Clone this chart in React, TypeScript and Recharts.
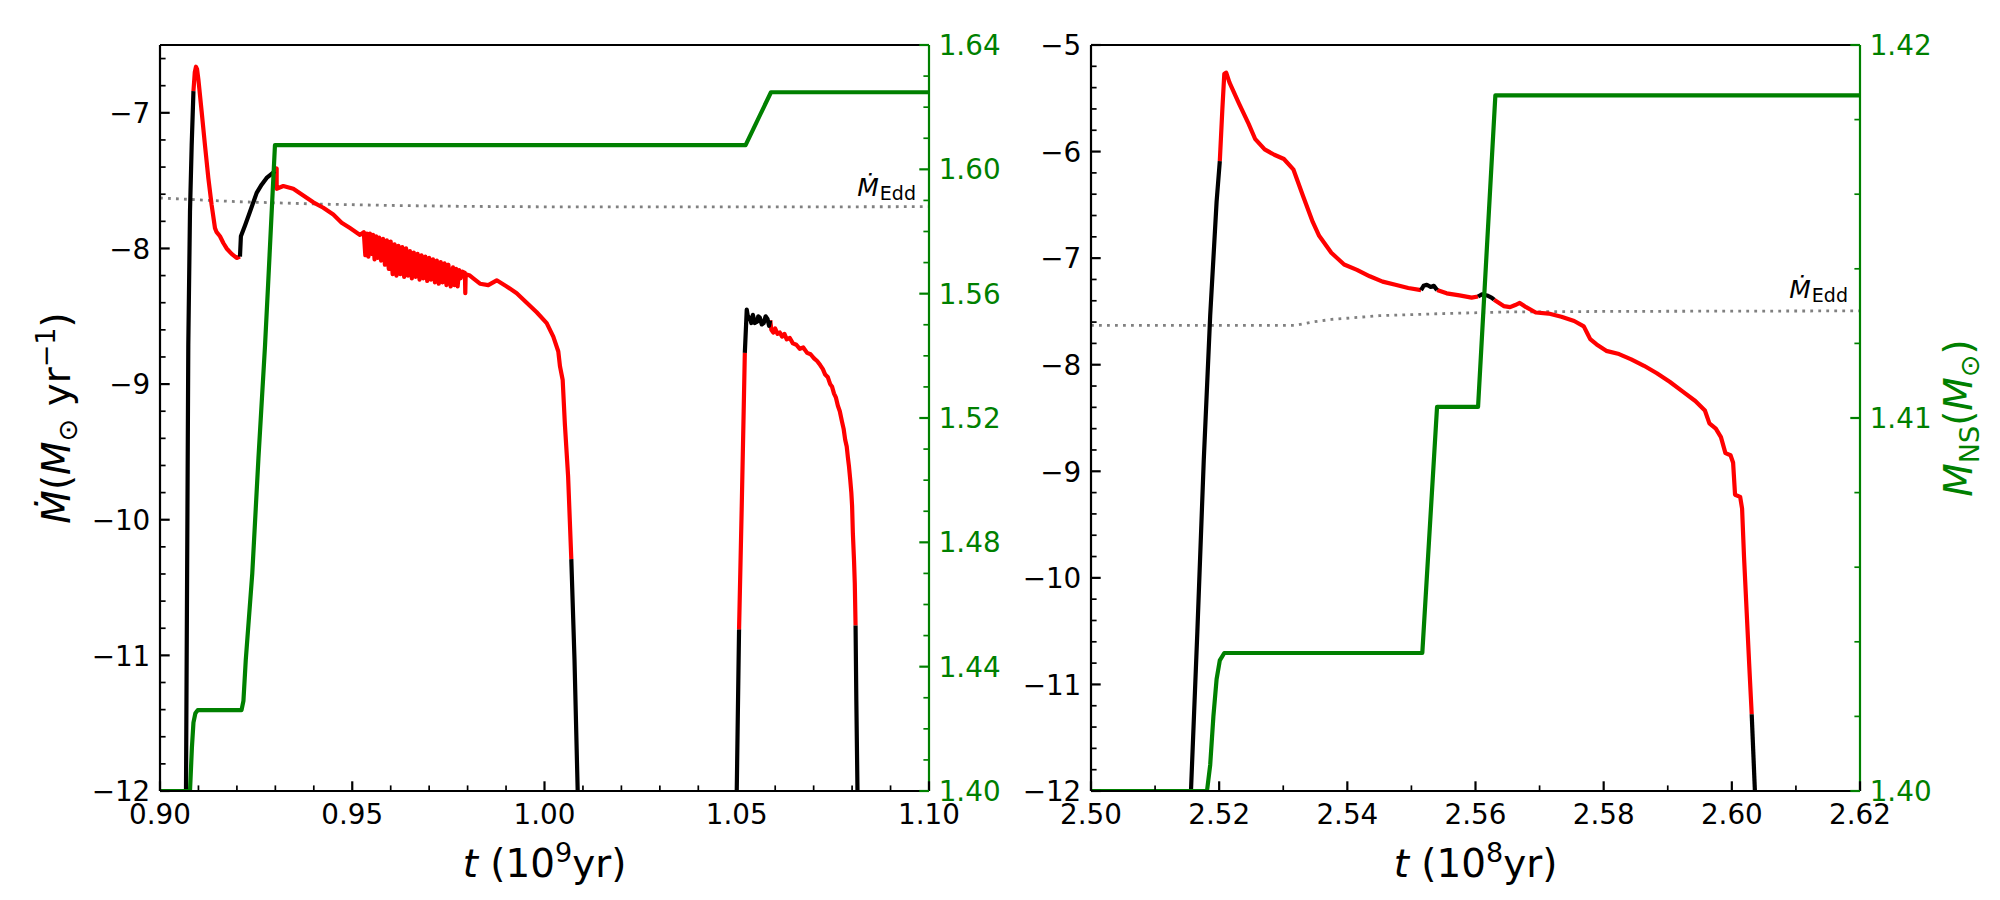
import React from 'react';
import { LineChart, Line, XAxis, YAxis } from 'recharts';

type P = [number, number];

// ---------------- Left panel (t in 1e9 yr) ----------------
const leftBlack1: P[] = [[0.90676, -12], [0.90736, -8.71], [0.9078, -7.73], [0.90824, -7.24], [0.9087, -6.84]];
const leftRed1: P[] = [[0.9087, -6.84], [0.90905, -6.7], [0.90936, -6.66], [0.90965, -6.68], [0.90997, -6.75], [0.91083, -6.99], [0.9117, -7.24], [0.91257, -7.48], [0.91343, -7.68], [0.9143, -7.85], [0.91473, -7.88], [0.9156, -7.91], [0.91647, -7.96], [0.91733, -8.0], [0.91863, -8.04], [0.91993, -8.07], [0.9208, -8.06]];
const leftBlack2: P[] = [[0.9208, -8.06], [0.92104, -7.91], [0.92211, -7.83], [0.9234, -7.73], [0.92514, -7.59], [0.92643, -7.53], [0.92773, -7.48], [0.92903, -7.45], [0.9299, -7.43]];
const leftRed2: P[] = [
  [0.9299, -7.43], [0.93034, -7.41], [0.93034, -7.56], [0.93207, -7.54], [0.93467, -7.56], [0.93727, -7.61], [0.93987, -7.66], [0.94247, -7.7], [0.94507, -7.75], [0.94724, -7.81], [0.94941, -7.85], [0.95202, -7.9],
  [0.953, -7.88], [0.9534, -8.05], [0.9538, -7.89], [0.9542, -8.06], [0.9546, -7.89], [0.955, -8.04], [0.9554, -7.9], [0.9558, -8.08], [0.9562, -7.91], [0.9566, -8.07], [0.957, -7.92], [0.9575, -8.09], [0.958, -7.93], [0.9585, -8.12], [0.959, -7.94], [0.9595, -8.15], [0.96, -7.95], [0.9605, -8.19], [0.961, -7.97], [0.9615, -8.2], [0.962, -7.98], [0.9625, -8.19], [0.963, -7.99], [0.9635, -8.21], [0.964, -8.0], [0.9645, -8.2], [0.965, -8.02], [0.9655, -8.22], [0.966, -8.03], [0.9665, -8.21], [0.967, -8.04], [0.9675, -8.23], [0.968, -8.05], [0.9685, -8.22], [0.969, -8.06], [0.9695, -8.24], [0.97, -8.07], [0.9705, -8.23], [0.971, -8.08], [0.9715, -8.25], [0.972, -8.09], [0.9725, -8.26], [0.973, -8.1], [0.9735, -8.25], [0.974, -8.11], [0.9745, -8.27], [0.975, -8.12], [0.9756, -8.28], [0.9762, -8.14], [0.9766, -8.27], [0.977, -8.15], [0.9774, -8.28], [0.9778, -8.16], [0.9782, -8.22], [0.9786, -8.17], [0.9793, -8.18], [0.9794, -8.33], [0.9795, -8.19], [0.9806, -8.2],
  [0.98148, -8.22], [0.98322, -8.26], [0.98538, -8.27], [0.98757, -8.235], [0.99017, -8.28], [0.99277, -8.33], [0.99537, -8.4], [0.99797, -8.47], [1.00057, -8.55], [1.00229, -8.65], [1.00359, -8.76], [1.00403, -8.87], [1.00473, -8.97], [1.00531, -9.3], [1.00614, -9.68], [1.00697, -10.29]];
const leftBlack3: P[] = [[1.00697, -10.29], [1.0078, -11.03], [1.00863, -12]];
const leftBlack4: P[] = [[1.05, -12], [1.0503, -11.4], [1.0506, -10.81]];
const leftRed3: P[] = [[1.0506, -10.81], [1.0513, -9.9], [1.0518, -9.2], [1.0521, -8.77]];
const leftBlack5: P[] = [[1.0521, -8.77], [1.0526, -8.45], [1.053, -8.52], [1.0534, -8.51], [1.0538, -8.55], [1.0542, -8.49], [1.0547, -8.55], [1.0553, -8.54], [1.0556, -8.5], [1.056, -8.51], [1.0565, -8.56], [1.057, -8.55], [1.0575, -8.5], [1.058, -8.52], [1.0584, -8.57], [1.0587, -8.53]];
const leftRed4: P[] = [[1.0587, -8.53], [1.059, -8.6], [1.0595, -8.62], [1.06, -8.59], [1.0606, -8.63], [1.0612, -8.62], [1.0618, -8.65], [1.0624, -8.63], [1.063, -8.67], [1.0638, -8.66], [1.0646, -8.7], [1.0655, -8.71], [1.0664, -8.74], [1.0673, -8.73], [1.0683, -8.77], [1.0692, -8.78], [1.0701, -8.81], [1.0709, -8.83], [1.0717, -8.86], [1.0724, -8.89], [1.073, -8.93], [1.0737, -8.95], [1.0743, -9.0], [1.0748, -9.02], [1.0753, -9.07], [1.0758, -9.1], [1.0763, -9.16], [1.0768, -9.2], [1.0774, -9.28], [1.0778, -9.33], [1.0782, -9.41], [1.0786, -9.46], [1.0789, -9.54], [1.0792, -9.61], [1.0795, -9.7], [1.0798, -9.8], [1.08, -9.9], [1.0802, -10.1], [1.0805, -10.3], [1.0807, -10.47], [1.0809, -10.78]];
const leftBlack6: P[] = [[1.0809, -10.78], [1.0811, -11.33], [1.0814, -12]];
const leftEdd: P[] = [[0.9, -7.628], [0.92, -7.655], [0.94, -7.672], [0.96, -7.683], [0.98, -7.69], [1.0, -7.693], [1.05, -7.694], [1.1, -7.692]];
const leftMassNS: P[] = [[0.9, 1.4], [0.9078, 1.4], [0.9083, 1.414], [0.9087, 1.422], [0.9092, 1.425], [0.9098, 1.426], [0.9212, 1.426], [0.9217, 1.429], [0.9223, 1.442], [0.924, 1.47], [0.9256, 1.507], [0.9273, 1.543], [0.9281, 1.5625], [0.9299, 1.6078], [1.0523, 1.6078], [1.0589, 1.6248], [1.1, 1.6248]];

const leftXTicks = [0.9, 0.91, 0.92, 0.93, 0.94, 0.95, 0.96, 0.97, 0.98, 0.99, 1.0, 1.01, 1.02, 1.03, 1.04, 1.05, 1.06, 1.07, 1.08, 1.09, 1.1];
const leftXMajor = [0.9, 0.95, 1.0, 1.05, 1.1];
const leftXLabels = ['0.90', '0.95', '1.00', '1.05', '1.10'];
const leftYTicks = [-12, -11.8, -11.6, -11.4, -11.2, -11, -10.8, -10.6, -10.4, -10.2, -10, -9.8, -9.6, -9.4, -9.2, -9, -8.8, -8.6, -8.4, -8.2, -8, -7.8, -7.6, -7.4, -7.2, -7, -6.8, -6.6];
const leftYMajor = [-12, -11, -10, -9, -8, -7];
const leftYLabels = ['\u221212', '\u221211', '\u221210', '\u22129', '\u22128', '\u22127'];
const leftY2Ticks = [1.4, 1.41, 1.42, 1.43, 1.44, 1.45, 1.46, 1.47, 1.48, 1.49, 1.5, 1.51, 1.52, 1.53, 1.54, 1.55, 1.56, 1.57, 1.58, 1.59, 1.6, 1.61, 1.62, 1.63, 1.64];
const leftY2Major = [1.4, 1.44, 1.48, 1.52, 1.56, 1.6, 1.64];
const leftY2Labels = ['1.40', '1.44', '1.48', '1.52', '1.56', '1.60', '1.64'];

// ---------------- Right panel (t in 1e8 yr) ----------------
const rightBlack1: P[] = [[2.5156, -12], [2.5166, -10.5], [2.5176, -8.89], [2.5186, -7.54], [2.5196, -6.47], [2.5201, -6.09]];
const rightRed1: P[] = [[2.5201, -6.09], [2.5205, -5.6], [2.5208, -5.27], [2.5211, -5.26], [2.5216, -5.35], [2.5231, -5.55], [2.5246, -5.74], [2.5256, -5.88], [2.5271, -5.98], [2.5286, -6.03], [2.5301, -6.07], [2.5316, -6.17], [2.5331, -6.42], [2.5346, -6.66], [2.5356, -6.79], [2.5375, -6.95], [2.5395, -7.06], [2.5415, -7.11], [2.5435, -7.17], [2.5455, -7.22], [2.5475, -7.25], [2.5495, -7.28], [2.5515, -7.3]];
const rightBlack2: P[] = [[2.5515, -7.3], [2.5519, -7.26], [2.5524, -7.25], [2.553, -7.27], [2.5535, -7.26], [2.554, -7.3]];
const rightRed2: P[] = [[2.554, -7.3], [2.5555, -7.33], [2.5575, -7.35], [2.5594, -7.37], [2.5604, -7.36]];
const rightBlack3: P[] = [[2.5604, -7.36], [2.561, -7.34], [2.5618, -7.35], [2.5625, -7.37], [2.5629, -7.39]];
const rightRed3: P[] = [[2.5629, -7.39], [2.5644, -7.45], [2.5654, -7.46], [2.5662, -7.44], [2.5669, -7.42], [2.5679, -7.46], [2.5694, -7.51], [2.5714, -7.52], [2.5734, -7.55], [2.5754, -7.59], [2.5769, -7.64], [2.5774, -7.7], [2.5779, -7.76], [2.5789, -7.81], [2.5804, -7.87], [2.5824, -7.9], [2.5843, -7.95], [2.5863, -8.01], [2.5883, -8.08], [2.5903, -8.16], [2.5923, -8.25], [2.5943, -8.34], [2.5958, -8.43], [2.5965, -8.55], [2.5975, -8.6], [2.5983, -8.68], [2.599, -8.83], [2.5998, -8.85], [2.6002, -8.92], [2.6005, -9.22], [2.6013, -9.24], [2.6016, -9.35], [2.6019, -9.8], [2.6023, -10.3], [2.6027, -10.8], [2.6031, -11.28]];
const rightBlack4: P[] = [[2.6031, -11.28], [2.6036, -12]];
const rightEdd: P[] = [[2.5, -7.63], [2.532, -7.63], [2.5345, -7.6], [2.5375, -7.575], [2.545, -7.54], [2.555, -7.52], [2.565, -7.505], [2.58, -7.5], [2.6, -7.497], [2.62, -7.495]];
const rightMassNS: P[] = [[2.5, 1.4], [2.5181, 1.4], [2.5186, 1.4007], [2.5191, 1.402], [2.5196, 1.403], [2.5201, 1.4035], [2.5208, 1.4037], [2.5517, 1.4037], [2.554, 1.4103], [2.5604, 1.4103], [2.5631, 1.41865], [2.62, 1.41865]];

const rightXTicks = [2.5, 2.51, 2.52, 2.53, 2.54, 2.55, 2.56, 2.57, 2.58, 2.59, 2.6, 2.61, 2.62];
const rightXMajor = [2.5, 2.52, 2.54, 2.56, 2.58, 2.6, 2.62];
const rightXLabels = ['2.50', '2.52', '2.54', '2.56', '2.58', '2.60', '2.62'];
const rightYTicks = [-12, -11.8, -11.6, -11.4, -11.2, -11, -10.8, -10.6, -10.4, -10.2, -10, -9.8, -9.6, -9.4, -9.2, -9, -8.8, -8.6, -8.4, -8.2, -8, -7.8, -7.6, -7.4, -7.2, -7, -6.8, -6.6, -6.4, -6.2, -6, -5.8, -5.6, -5.4, -5.2, -5];
const rightYMajor = [-12, -11, -10, -9, -8, -7, -6, -5];
const rightYLabels = ['\u221212', '\u221211', '\u221210', '\u22129', '\u22128', '\u22127', '\u22126', '\u22125'];
const rightY2Ticks = [1.4, 1.402, 1.404, 1.406, 1.408, 1.41, 1.412, 1.414, 1.416, 1.418, 1.42];
const rightY2Major = [1.4, 1.41, 1.42];
const rightY2Labels = ['1.40', '1.41', '1.42'];

// ---------------- styling ----------------
const FONT = 'DejaVu Sans';
const TICK_FS = 27.8;
const LABEL_FS = 38.9;
const GREEN = '#008000';
const RED = '#ff0000';
const BLACK = '#000000';
const LW = 4.2;
const SPINE = 2.2;

const rows = (pts: P[]) => pts.map(([t, v]) => ({ t, v }));
const majorIndex = (v: number, majors: number[]) => majors.findIndex((m) => Math.abs(m - v) < 1e-6);

function bottomTick(majors: number[], labels: string[]) {
  return (props: any) => {
    const { x, y, payload } = props;
    const i = majorIndex(payload.value, majors);
    const major = i >= 0;
    return (
      <g>
        <line x1={x} x2={x} y1={y} y2={y - (major ? 9.7 : 5.6)} stroke={BLACK} strokeWidth={major ? 2.2 : 1.7} />
        {major && (
          <text x={x} y={y + 33} textAnchor="middle" fontSize={TICK_FS} fontFamily={FONT} fill={BLACK}>
            {labels[i]}
          </text>
        )}
      </g>
    );
  };
}

function leftTick(majors: number[], labels: string[]) {
  return (props: any) => {
    const { x, y, payload } = props;
    const i = majorIndex(payload.value, majors);
    const major = i >= 0;
    return (
      <g>
        <line x1={x} x2={x + (major ? 9.7 : 5.6)} y1={y} y2={y} stroke={BLACK} strokeWidth={major ? 2.2 : 1.7} />
        {major && (
          <text x={x - 9.7} y={y + 10.3} textAnchor="end" fontSize={TICK_FS} fontFamily={FONT} fill={BLACK}>
            {labels[i]}
          </text>
        )}
      </g>
    );
  };
}

function rightTick(majors: number[], labels: string[]) {
  return (props: any) => {
    const { x, y, payload } = props;
    const i = majorIndex(payload.value, majors);
    const major = i >= 0;
    return (
      <g>
        <line x1={x} x2={x - (major ? 9.7 : 5.6)} y1={y} y2={y} stroke={GREEN} strokeWidth={major ? 2.2 : 1.7} />
        {major && (
          <text x={x + 9.7} y={y + 10} textAnchor="start" fontSize={TICK_FS} fontFamily={FONT} fill={GREEN}>
            {labels[i]}
          </text>
        )}
      </g>
    );
  };
}

type PanelProps = {
  left: number;
  margin: { top: number; right: number; bottom: number; left: number };
  xDomain: [number, number];
  yDomain: [number, number];
  y2Domain: [number, number];
  xTicks: number[]; xMajor: number[]; xLabels: string[];
  yTicks: number[]; yMajor: number[]; yLabels: string[];
  y2Ticks: number[]; y2Major: number[]; y2Labels: string[];
  edd: P[];
  red: P[][];
  black: P[][];
  mass: P[];
};

function Panel(p: PanelProps) {
  return (
    <div style={{ position: 'absolute', left: p.left, top: 0, width: 1000, height: 900 }}>
      <LineChart width={1000} height={900} margin={p.margin}>
        <XAxis
          xAxisId={0}
          dataKey="t"
          type="number"
          domain={p.xDomain}
          allowDataOverflow
          ticks={p.xTicks}
          interval={0}
          height={1}
          tickSize={0}
          tickMargin={0}
          tickLine={false}
          axisLine={{ stroke: BLACK, strokeWidth: SPINE }}
          tick={bottomTick(p.xMajor, p.xLabels)}
        />
        <XAxis
          xAxisId="top"
          orientation="top"
          dataKey="t"
          type="number"
          domain={p.xDomain}
          allowDataOverflow
          ticks={p.xDomain}
          interval={0}
          height={1}
          tickSize={0}
          tickMargin={0}
          tick={() => <g />}
          tickLine={false}
          axisLine={{ stroke: BLACK, strokeWidth: SPINE }}
        />
        <YAxis
          yAxisId="left"
          type="number"
          domain={p.yDomain}
          allowDataOverflow
          ticks={p.yTicks}
          interval={0}
          width={1}
          tickSize={0}
          tickMargin={0}
          tickLine={false}
          axisLine={{ stroke: BLACK, strokeWidth: SPINE }}
          tick={leftTick(p.yMajor, p.yLabels)}
        />
        <YAxis
          yAxisId="right"
          orientation="right"
          type="number"
          domain={p.y2Domain}
          allowDataOverflow
          ticks={p.y2Ticks}
          interval={0}
          width={1}
          tickSize={0}
          tickMargin={0}
          tickLine={false}
          axisLine={{ stroke: GREEN, strokeWidth: SPINE }}
          tick={rightTick(p.y2Major, p.y2Labels)}
        />
        <Line
          yAxisId="left"
          data={rows(p.edd)}
          dataKey="v"
          type="linear"
          stroke="#808080"
          strokeWidth={2.8}
          strokeDasharray="2.8 5.2"
          dot={false}
          activeDot={false}
          isAnimationActive={false}
        />
        {p.red.map((seg, k) => (
          <Line
            key={'r' + k}
            yAxisId="left"
            data={rows(seg)}
            dataKey="v"
            type="linear"
            stroke={RED}
            strokeWidth={LW}
            strokeLinejoin="round"
            dot={false}
            activeDot={false}
            isAnimationActive={false}
          />
        ))}
        {p.black.map((seg, k) => (
          <Line
            key={'b' + k}
            yAxisId="left"
            data={rows(seg)}
            dataKey="v"
            type="linear"
            stroke={BLACK}
            strokeWidth={LW}
            strokeLinejoin="round"
            dot={false}
            activeDot={false}
            isAnimationActive={false}
          />
        ))}
        <Line
          yAxisId="right"
          data={rows(p.mass)}
          dataKey="v"
          type="linear"
          stroke={GREEN}
          strokeWidth={LW}
          strokeLinejoin="round"
          dot={false}
          activeDot={false}
          isAnimationActive={false}
        />
      </LineChart>
    </div>
  );
}

function Labels() {
  return (
    <svg width={2000} height={900} style={{ position: 'absolute', left: 0, top: 0, pointerEvents: 'none' }}>
      <text x={544.5} y={877} textAnchor="middle" fontSize={LABEL_FS} fontFamily={FONT} fill={BLACK}>
        <tspan fontStyle="italic">t</tspan>
        <tspan>{' (10'}</tspan>
        <tspan fontSize={27} dy={-15}>9</tspan>
        <tspan dy={15}>{'yr)'}</tspan>
      </text>
      <text x={1475.5} y={877} textAnchor="middle" fontSize={LABEL_FS} fontFamily={FONT} fill={BLACK}>
        <tspan fontStyle="italic">t</tspan>
        <tspan>{' (10'}</tspan>
        <tspan fontSize={27} dy={-15}>8</tspan>
        <tspan dy={15}>{'yr)'}</tspan>
      </text>
      <text x={70} y={418} transform="rotate(-90 70 418)" textAnchor="middle" fontSize={LABEL_FS} fontFamily={FONT} fill={BLACK}>
        <tspan fontStyle="italic">{'\u1E40'}</tspan>
        <tspan>(</tspan>
        <tspan fontStyle="italic">M</tspan>
        <tspan fontSize={27} dy={7}>{'\u2299'}</tspan>
        <tspan dy={-7}>{'\u00A0yr'}</tspan>
        <tspan fontSize={27} dy={-15}>{'\u22121'}</tspan>
        <tspan dy={15}>)</tspan>
      </text>
      <text x={1972} y={418} transform="rotate(-90 1972 418)" textAnchor="middle" fontSize={LABEL_FS} fontFamily={FONT} fill={GREEN}>
        <tspan fontStyle="italic">M</tspan>
        <tspan fontSize={27} dy={7}>NS</tspan>
        <tspan dy={-7}>(</tspan>
        <tspan fontStyle="italic">M</tspan>
        <tspan fontSize={27} dy={7}>{'\u2299'}</tspan>
        <tspan dy={-7}>)</tspan>
      </text>
      <text x={916} y={196} textAnchor="end" fontFamily={FONT} fill={BLACK}>
        <tspan fontSize={25} fontStyle="italic">{'\u1E40'}</tspan>
        <tspan fontSize={19} dy={4.4} dx={1}>Edd</tspan>
      </text>
      <text x={1848} y={298} textAnchor="end" fontFamily={FONT} fill={BLACK}>
        <tspan fontSize={25} fontStyle="italic">{'\u1E40'}</tspan>
        <tspan fontSize={19} dy={4.4} dx={1}>Edd</tspan>
      </text>
    </svg>
  );
}

export default function App() {
  return (
    <div style={{ position: 'absolute', left: 0, top: 0, width: 2000, height: 900, background: '#fff', overflow: 'hidden' }}>
      <Panel
        left={0}
        margin={{ top: 44, right: 70, bottom: 108, left: 159 }}
        xDomain={[0.9, 1.1]}
        yDomain={[-12, -6.5]}
        y2Domain={[1.4, 1.64]}
        xTicks={leftXTicks} xMajor={leftXMajor} xLabels={leftXLabels}
        yTicks={leftYTicks} yMajor={leftYMajor} yLabels={leftYLabels}
        y2Ticks={leftY2Ticks} y2Major={leftY2Major} y2Labels={leftY2Labels}
        edd={leftEdd}
        red={[leftRed1, leftRed2, leftRed3, leftRed4]}
        black={[leftBlack1, leftBlack2, leftBlack3, leftBlack4, leftBlack5, leftBlack6]}
        mass={leftMassNS}
      />
      <Panel
        left={1000}
        margin={{ top: 44, right: 139, bottom: 108, left: 90 }}
        xDomain={[2.5, 2.62]}
        yDomain={[-12, -5]}
        y2Domain={[1.4, 1.42]}
        xTicks={rightXTicks} xMajor={rightXMajor} xLabels={rightXLabels}
        yTicks={rightYTicks} yMajor={rightYMajor} yLabels={rightYLabels}
        y2Ticks={rightY2Ticks} y2Major={rightY2Major} y2Labels={rightY2Labels}
        edd={rightEdd}
        red={[rightRed1, rightRed2, rightRed3]}
        black={[rightBlack1, rightBlack2, rightBlack3, rightBlack4]}
        mass={rightMassNS}
      />
      <Labels />
    </div>
  );
}
